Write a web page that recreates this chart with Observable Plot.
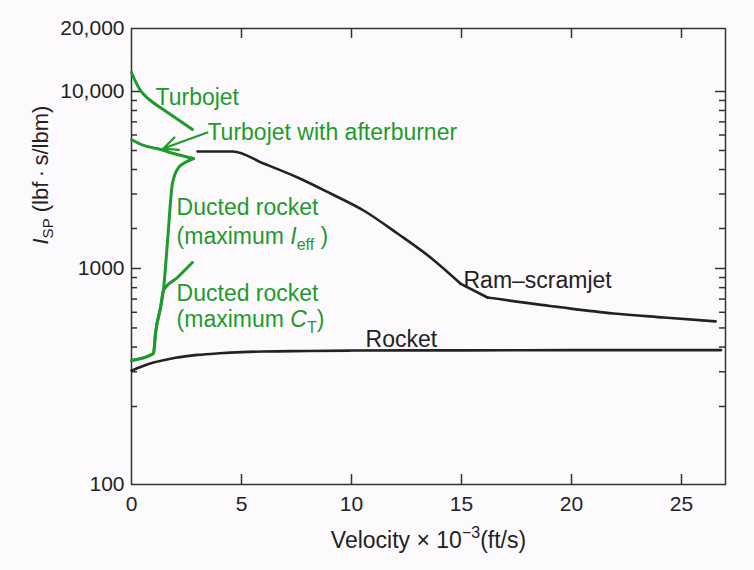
<!DOCTYPE html>
<html><head><meta charset="utf-8">
<script src="https://cdn.jsdelivr.net/npm/d3@7"></script>
<script src="https://cdn.jsdelivr.net/npm/@observablehq/plot@0.6"></script>
<style>
body{margin:0;background:#fcfafd;}
#chart svg{font-family:"Liberation Sans",Arial,sans-serif;}
</style></head><body><div id="chart"></div>
<script>
// ---- ticks ----
const xTicks = [0, 5, 10, 15, 20, 25];
const yLabelTicks = [100, 1000, 10000, 20000];
const yMajorTicks = [1000, 10000];
const yMinorTicks = [200, 300, 400, 500, 600, 700, 800, 900, 2000, 3000, 4000, 5000, 6000, 7000, 8000, 9000];
// the printed axis is not uniform: knots of the piecewise log scale
const yKnots = [100, 200, 1000, 2000, 10000, 20000];
const yKnotPx = [484, 406, 268, 228, 91, 28];

// ---- series (velocity x 1e-3 ft/s, Isp lbf.s/lbm) ----
const rocketV = [0, 0.5, 1, 1.5, 2, 3, 4, 5, 6, 8, 10, 15, 20, 26.8];
const rocketI = [304, 320, 334, 344, 353, 365, 372, 377, 380, 382, 384, 385, 386, 386];

// ram-scramjet: smooth descent, kinks at ~15 and ~16
const ramV = [3.0, 4.6, 6.0, 7.55, 9.05, 10.55, 12.09, 13.59, 14.95, 16.18, 19.6, 21.9, 24.2, 26.55];
const ramI = [4940, 4940, 4292, 3642, 3017, 2471, 1834, 1210, 839, 713, 634, 592, 565, 540];
const ramKink1 = 8, ramKink2 = 9; // indices of the two corners

const turboV = [0, 0.41, 0.86, 1.64, 2.77];
const turboI = [12325, 10110, 8997, 7814, 6401];

const abV = [0, 0.55, 1.32, 1.91, 2.82];
const abI = [5690, 5305, 5058, 4826, 4551];

const ieffV = [0, 1.0, 1.09, 1.32, 1.45, 1.64, 1.86, 2.14, 2.5, 2.82];
const ieffI = [342, 371, 469, 634, 774, 1624, 3394, 4095, 4380, 4551];

const ctV = [0, 1.0, 1.09, 1.32, 1.45, 2.09, 2.77];
const ctI = [342, 371, 469, 634, 774, 900, 1110];

// arrow for "Turbojet with afterburner"
const arrowV = [3.45, 1.45];
const arrowI = [6176, 5117];

// labels
const greenText = ["Turbojet", "Turbojet with afterburner", "Ducted rocket", "(maximum Ieff )", "Ducted rocket", "(maximum CT)"];
const greenV = [1.09, 3.45, 2.05, 2.05, 2.05, 2.05];
const greenI = [8485, 5624, 2330, 1542, 681, 508];
const blackText = ["Rocket", "Ram\u2013scramjet"];
const blackV = [10.64, 15.09];
const blackI = [398, 801];

const W = 754, H = 570, mL = 131, mR = 29, mT = 28, mB = 86;
const plotW = W - mL - mR, plotH = H - mT - mB;
const GREEN = "#1f9a2b", INK = "#222";

const tab = (xs, ys) => xs.map((x, i) => ({x, y: ys[i]}));
const lab = (ts, xs, ys) => ts.map((t, i) => ({t, x: xs[i], y: ys[i]}));
const ram = tab(ramV, ramI);

const chart = Plot.plot({
  width: W, height: H,
  marginLeft: mL, marginRight: mR, marginTop: mT, marginBottom: mB,
  style: {background: "transparent", fontFamily: "Liberation Sans, Arial, sans-serif", color: INK},
  x: {domain: [0, 27]},
  y: {type: "log", domain: yKnots, range: yKnotPx},
  marks: [
    Plot.frame({stroke: "#333", strokeWidth: 1.5}),
    // inward ticks
    Plot.tickY(yMajorTicks, {y: d => d, insetRight: plotW - 10, stroke: "#333", strokeWidth: 1.5}),
    Plot.tickY(yMinorTicks, {y: d => d, insetRight: plotW - 6, stroke: "#333", strokeWidth: 1.5}),
    Plot.tickY(yMajorTicks, {y: d => d, insetLeft: plotW - 10, stroke: "#333", strokeWidth: 1.5}),
    Plot.tickY(yMinorTicks, {y: d => d, insetLeft: plotW - 6, stroke: "#333", strokeWidth: 1.5}),
    Plot.tickX(xTicks.slice(1), {x: d => d, insetTop: plotH - 10, stroke: "#333", strokeWidth: 1.5}),
    Plot.tickX(xTicks.slice(1), {x: d => d, insetBottom: plotH - 10, stroke: "#333", strokeWidth: 1.5}),
    Plot.axisX(xTicks, {anchor: "bottom", tickSize: 0, tickPadding: 12, fontSize: 21, label: null}),
    Plot.axisY(yLabelTicks, {anchor: "left", tickSize: 0, tickPadding: 7, fontSize: 21, label: null,
      tickFormat: d => d >= 10000 ? d3.format(",")(d) : String(d)}),
    // curves
    Plot.line(tab(rocketV, rocketI), {x: "x", y: "y", stroke: INK, strokeWidth: 2.6, curve: "monotone-x"}),
    Plot.line(ram.slice(0, ramKink1 + 1), {x: "x", y: "y", stroke: INK, strokeWidth: 2.6, curve: "monotone-x"}),
    Plot.line(ram.slice(ramKink1, ramKink2 + 1), {x: "x", y: "y", stroke: INK, strokeWidth: 2.6}),
    Plot.line(ram.slice(ramKink2), {x: "x", y: "y", stroke: INK, strokeWidth: 2.6, curve: "monotone-x"}),
    Plot.line(tab(turboV, turboI), {x: "x", y: "y", stroke: GREEN, strokeWidth: 3, curve: "catmull-rom"}),
    Plot.line(tab(abV, abI), {x: "x", y: "y", stroke: GREEN, strokeWidth: 3, curve: "catmull-rom"}),
    Plot.line(tab(ieffV, ieffI), {x: "x", y: "y", stroke: GREEN, strokeWidth: 3, curve: "monotone-x"}),
    Plot.line(tab(ctV, ctI), {x: "x", y: "y", stroke: GREEN, strokeWidth: 3, curve: "monotone-x"}),
    Plot.arrow([0], {x1: () => arrowV[0], y1: () => arrowI[0], x2: () => arrowV[1], y2: () => arrowI[1],
      stroke: GREEN, strokeWidth: 2.2, headLength: 16, headAngle: 50}),
    // labels
    Plot.text(lab(greenText, greenV, greenI), {x: "x", y: "y", text: "t", fill: GREEN, fontSize: 23,
      textAnchor: "start", lineAnchor: "bottom"}),
    Plot.text(lab(blackText, blackV, blackI), {x: "x", y: "y", text: "t", fill: INK, fontSize: 23,
      textAnchor: "start", lineAnchor: "bottom"}),
    // axis titles
    Plot.text(["Velocity x 10-3(ft/s)"], {frameAnchor: "bottom", dy: 63, lineAnchor: "bottom", fontSize: 23, fill: INK, className: "xtitle"}),
    Plot.text(["ISP (lbf·s/lbm)"], {frameAnchor: "left", dx: -91, dy: -12, rotate: -90, fontSize: 22, fill: INK, className: "ytitle"})
  ]
});
document.getElementById("chart").append(chart);

// rich text (italics, sub/superscripts)
const sel = d3.select(chart);
function patch(text, html) {
  sel.selectAll("text").filter(function () { return this.textContent === text; }).html(html);
}
patch("(maximum Ieff )", '(maximum <tspan font-style="italic">I</tspan><tspan dy="6" font-size="16">eff</tspan><tspan dy="-6"> )</tspan>');
patch("(maximum CT)", '(maximum <tspan font-style="italic">C</tspan><tspan dy="6" font-size="16">T</tspan><tspan dy="-6">)</tspan>');
patch("Velocity x 10-3(ft/s)", 'Velocity \u00d7 10<tspan dy="-10" font-size="16">\u22123</tspan><tspan dy="10">(ft/s)</tspan>');
patch("ISP (lbf·s/lbm)", '<tspan font-style="italic">I</tspan><tspan dy="5" font-size="15">SP</tspan><tspan dy="-5"> (lbf\u2009\u00b7\u2009s/lbm)</tspan>');
</script></body></html>
